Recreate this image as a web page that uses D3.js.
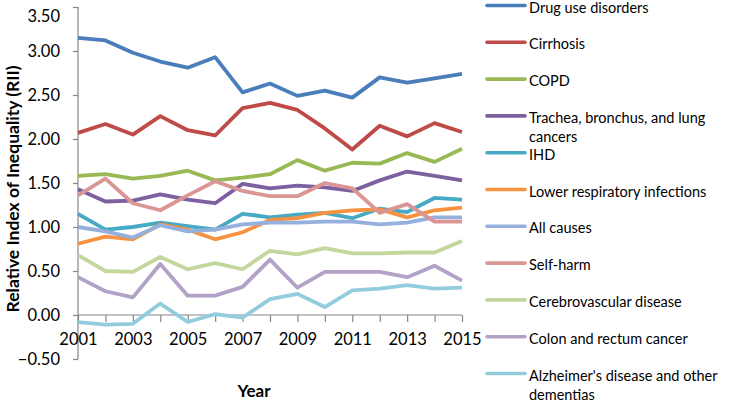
<!DOCTYPE html>
<html><head><meta charset="utf-8">
<script src="https://cdn.jsdelivr.net/npm/d3@7"></script>
<style>body{margin:0;background:#fff}svg{display:block}text{font-family:Lato,"Open Sans",sans-serif;fill:#000}</style>
</head><body><svg id="c" width="740" height="403"></svg>
<script>
const years = [2001,2002,2003,2004,2005,2006,2007,2008,2009,2010,2011,2012,2013,2014,2015];
const xTickLabels = [2001,2003,2005,2007,2009,2011,2013,2015];
const yTicks = [-0.5,0,0.5,1,1.5,2,2.5,3,3.5];
const seriesNames = ["Drug use disorders","Cirrhosis","COPD","Trachea, bronchus, and lung cancers","IHD","Lower respiratory infections","All causes","Self-harm","Cerebrovascular disease","Colon and rectum cancer","Alzheimer's disease and other dementias"];
const legendLines = [["Drug use disorders"],["Cirrhosis"],["COPD"],["Trachea, bronchus, and lung","cancers"],["IHD"],["Lower respiratory infections"],["All causes"],["Self-harm"],["Cerebrovascular disease"],["Colon and rectum cancer"],["Alzheimer's disease and other","dementias"]];
const colors = ["#4a7ebb","#be4b48","#98b954","#7d60a0","#46aac5","#f69240","#95b0dc","#d99694","#c3d69b","#b3a2c7","#93cddd"];
const drugUse   = [3.15,3.12,2.98,2.88,2.81,2.93,2.53,2.63,2.49,2.55,2.47,2.70,2.64,2.69,2.74];
const cirrhosis = [2.07,2.17,2.05,2.26,2.10,2.04,2.35,2.41,2.33,2.12,1.88,2.15,2.03,2.18,2.08];
const copd      = [1.58,1.60,1.55,1.58,1.64,1.53,1.56,1.60,1.76,1.64,1.73,1.72,1.84,1.74,1.89];
const trachea   = [1.43,1.29,1.30,1.37,1.31,1.27,1.49,1.44,1.47,1.45,1.41,1.53,1.63,1.58,1.53];
const ihd       = [1.15,0.97,1.00,1.05,1.01,0.97,1.15,1.11,1.14,1.16,1.10,1.21,1.17,1.33,1.31];
const lowerResp = [0.81,0.89,0.86,1.03,0.97,0.86,0.94,1.08,1.10,1.16,1.19,1.20,1.11,1.19,1.22];
const allCauses = [1.00,0.95,0.88,1.02,0.95,0.97,1.03,1.05,1.05,1.06,1.06,1.03,1.05,1.11,1.11];
const selfHarm  = [1.36,1.55,1.27,1.19,1.36,1.52,1.41,1.35,1.35,1.50,1.44,1.16,1.26,1.06,1.06];
const cerebro   = [0.68,0.50,0.49,0.66,0.52,0.59,0.52,0.73,0.69,0.76,0.70,0.70,0.71,0.71,0.84];
const colon     = [0.43,0.27,0.20,0.58,0.22,0.22,0.32,0.63,0.31,0.49,0.49,0.49,0.43,0.56,0.39];
const alzheimer = [-0.08,-0.11,-0.10,0.13,-0.08,0.01,-0.03,0.18,0.24,0.09,0.28,0.30,0.34,0.30,0.31];
const allSeries = [drugUse,cirrhosis,copd,trachea,ihd,lowerResp,allCauses,selfHarm,cerebro,colon,alzheimer];

const svg = d3.select("#c");
const x = d3.scaleLinear().domain([2001,2015]).range([78,462]);
const y = d3.scaleLinear().domain([-0.5,3.5]).range([359,7]);
const axisColor = "#868686";

// y axis
const ya = svg.append("g").attr("transform","translate(78,0)")
  .call(d3.axisLeft(y).tickValues(yTicks).tickFormat(d3.format(".2f")).tickSize(5).tickPadding(13));
ya.select(".domain").attr("stroke",axisColor).attr("stroke-width",1.2).attr("d","M0,"+y(-0.5)+"V"+y(3.5));
ya.selectAll(".tick line").attr("stroke",axisColor).attr("stroke-width",1.2);
ya.selectAll(".tick text").attr("font-size",16.5).attr("font-family","Lato,sans-serif").attr("fill","#000")
  .attr("dy",d=> d===3.5 ? "0.85em" : "0.32em");

// x axis at y=0
const xa = svg.append("g").attr("transform","translate(0,"+y(0)+")")
  .call(d3.axisBottom(x).tickValues(years).tickFormat(d=> xTickLabels.includes(d)? String(d):"").tickSize(7).tickPadding(11));
xa.select(".domain").attr("stroke",axisColor).attr("stroke-width",1.2).attr("d","M"+x(2001)+",0H"+x(2015));
xa.selectAll(".tick line").attr("stroke",axisColor).attr("stroke-width",1.2);
xa.selectAll(".tick text").attr("font-size",16.5).attr("font-family","Lato,sans-serif").attr("fill","#000");

// lines
const line = d3.line().x((d,i)=>x(years[i])).y(d=>y(d));
svg.append("g").selectAll("path").data(allSeries).join("path")
  .attr("d",line).attr("fill","none").attr("stroke",(d,i)=>colors[i])
  .attr("stroke-width",3.8).attr("stroke-linejoin","round").attr("stroke-linecap","butt");

// axis titles
svg.append("text").attr("transform","translate(19,189) rotate(-90)").attr("text-anchor","middle")
  .attr("font-size",17.5).attr("font-weight","bold").text("Relative Index of Inequality (RII)");
svg.append("text").attr("x",254).attr("y",397).attr("text-anchor","middle")
  .attr("font-size",17).attr("font-weight","bold").text("Year");

// legend
const lg = svg.append("g").selectAll("g").data(seriesNames).join("g")
  .attr("transform",(d,i)=>"translate(0,"+(5.5+i*36.8)+")");
lg.append("line").attr("x1",487).attr("x2",525).attr("y1",0).attr("y2",0)
  .attr("stroke",(d,i)=>colors[i]).attr("stroke-width",3.6).attr("stroke-linecap","round");
lg.append("text").attr("x",529).attr("y",7).attr("font-size",14.5)
  .selectAll("tspan").data((d,i)=>legendLines[i]).join("tspan")
  .attr("x",529).attr("dy",(d,j)=>j===0?0:19).text(d=>d);
</script></body></html>
